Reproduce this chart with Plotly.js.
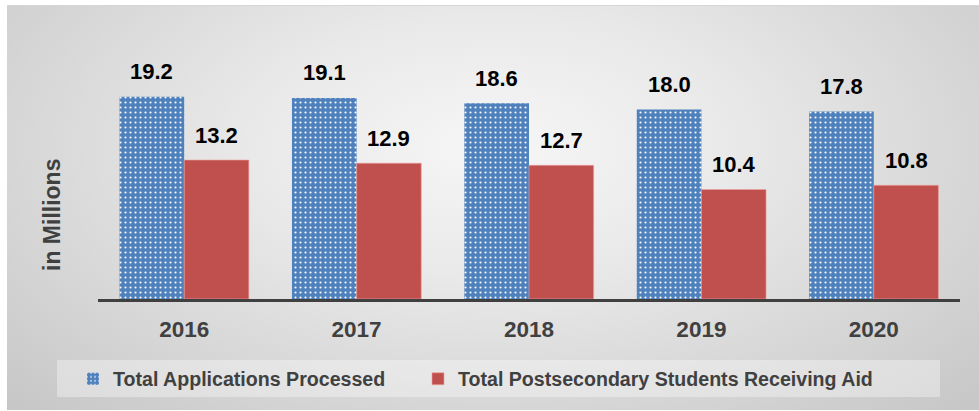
<!DOCTYPE html>
<html>
<head>
<meta charset="utf-8">
<script src="https://cdn.plot.ly/plotly-3.0.1.min.js"></script>
<style>
  html, body { margin: 0; padding: 0; background: #ffffff; }
  #bg { position: absolute; left: 7px; top: 5px; width: 972px; height: 405px;
        background: radial-gradient(ellipse farthest-corner at 50% 35%, #f6f6f6 0%, #e9e9e9 35%, #c6c6c6 100%);
        border-top: 1px solid #d6d6d6; box-sizing: border-box; }
  #chart { position: absolute; left: 0; top: 0; width: 979px; height: 411px; }
</style>
</head>
<body>
<div id="bg"></div>
<div id="chart"></div>
<script>
const years = ['2016', '2017', '2018', '2019', '2020'];
const applications = [19.2, 19.1, 18.6, 18.0, 17.8];
const studentsAid = [13.2, 12.9, 12.7, 10.4, 10.8];
const seriesNames = ['Total Applications Processed', 'Total Postsecondary Students Receiving Aid'];
const yTitle = 'in Millions';

const FONT = 'Liberation Sans, Arial, sans-serif';
const BLUE = '#4f81bd';
const RED = '#c0504d';

const traces = [
  {
    type: 'bar', name: seriesNames[0], x: years, y: applications, legend: 'legend',
    marker: { color: BLUE, pattern: { shape: '.', fgcolor: '#ffffff', bgcolor: BLUE, size: 5, solidity: 0.14, fillmode: 'replace' },
              line: { width: 0 } },
    hoverinfo: 'x+y'
  },
  {
    type: 'bar', name: seriesNames[1], x: years, y: studentsAid, legend: 'legend2',
    marker: { color: RED, line: { width: 1, color: 'rgba(240,160,160,0.6)' } },
    hoverinfo: 'x+y'
  }
];

const annotations = [];
years.forEach((yr, i) => {
  annotations.push({ x: i, y: applications[i], xref: 'x', yref: 'y', text: applications[i].toFixed(1),
    showarrow: false, xshift: -32.3, yshift: 25, yanchor: 'middle',
    font: { family: FONT, size: 22, color: '#000000', weight: 'bold' } });
  annotations.push({ x: i, y: studentsAid[i], xref: 'x', yref: 'y', text: studentsAid[i].toFixed(1),
    showarrow: false, xshift: 32.3, yshift: 25, yanchor: 'middle',
    font: { family: FONT, size: 22, color: '#000000', weight: 'bold' } });
});
annotations.push({ xref: 'paper', yref: 'paper', x: (52 - 98) / 862, y: (299 - 215) / 259,
  text: yTitle, textangle: -90, showarrow: false, xanchor: 'center', yanchor: 'middle',
  font: { family: FONT, size: 23, color: '#404040', weight: 'bold' } });

const legendFont = { family: FONT, size: 19.6, color: '#404040', weight: 'bold' };
const layout = {
  width: 979, height: 411,
  margin: { l: 98, r: 19, t: 40, b: 112 },
  paper_bgcolor: 'rgba(0,0,0,0)', plot_bgcolor: 'rgba(0,0,0,0)',
  barmode: 'group', bargap: 0.25, bargroupgap: 0,
  showlegend: true,
  legend: {
    orientation: 'h', xref: 'container', yref: 'container',
    x: 73 / 979, y: (411 - 379) / 411, xanchor: 'left', yanchor: 'middle',
    bgcolor: 'rgba(0,0,0,0)', borderwidth: 0, itemwidth: 30, font: legendFont
  },
  legend2: {
    orientation: 'h', xref: 'container', yref: 'container',
    x: 418 / 979, y: (411 - 379) / 411, xanchor: 'left', yanchor: 'middle',
    bgcolor: 'rgba(0,0,0,0)', borderwidth: 0, itemwidth: 30, font: legendFont
  },
  xaxis: {
    type: 'category', range: [-0.5, 4.5], autorange: false,
    showline: true, linecolor: '#404040', linewidth: 3,
    showgrid: false, zeroline: false, ticks: '', ticklabelstandoff: 8,
    tickfont: { family: FONT, size: 22.5, color: '#404040', weight: 'bold' },
    fixedrange: true
  },
  yaxis: {
    range: [0, 24.6], autorange: false, showgrid: false, zeroline: false, showline: false,
    showticklabels: false, ticks: '', fixedrange: true
  },
  shapes: [{
    type: 'rect', xref: 'paper', yref: 'paper', layer: 'below',
    x0: (57 - 98) / 862, x1: (940 - 98) / 862, y0: (299 - 360) / 259, y1: (299 - 397) / 259,
    fillcolor: 'rgba(255,255,255,0.35)', line: { width: 0 }
  }],
  annotations: annotations,
  font: { family: FONT }
};

Plotly.newPlot('chart', traces, layout, { displayModeBar: false });
</script>
</body>
</html>
